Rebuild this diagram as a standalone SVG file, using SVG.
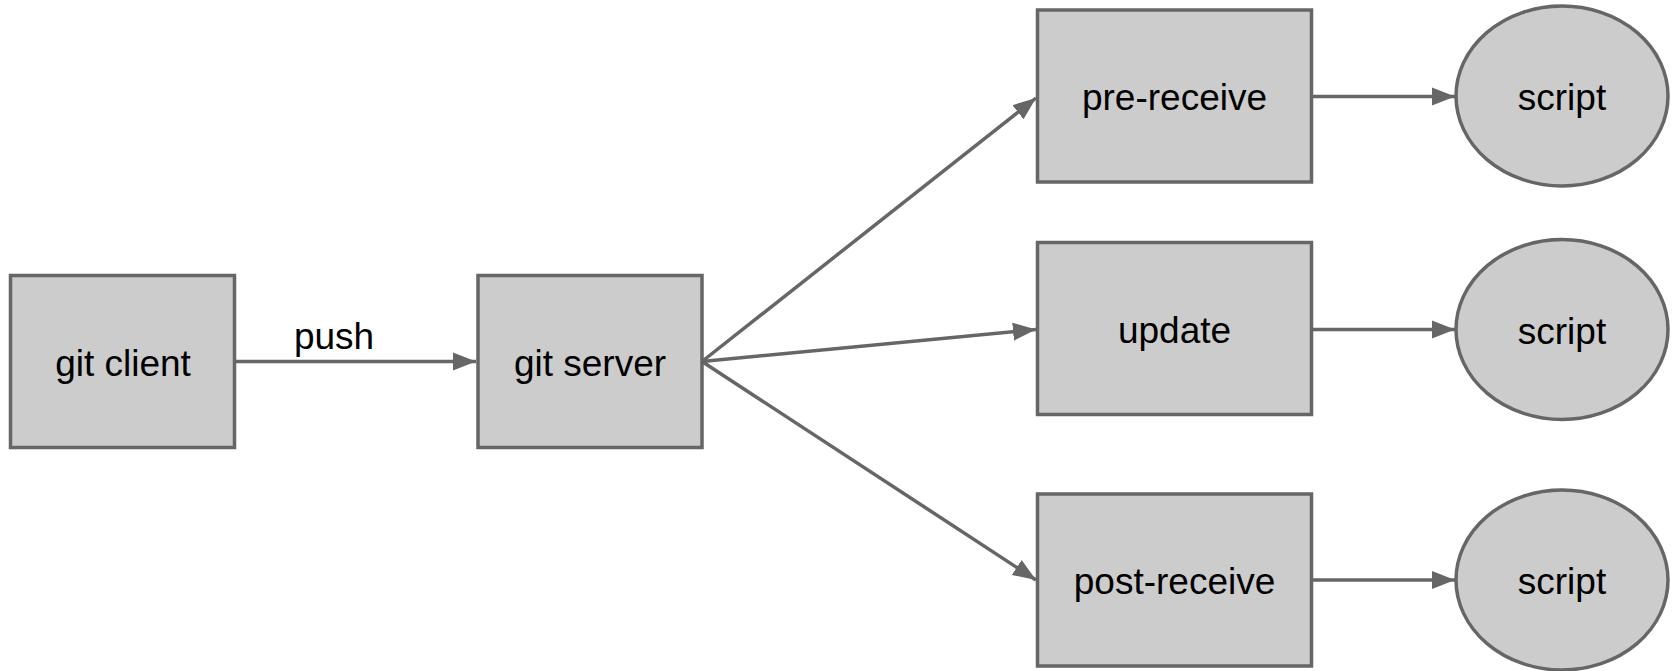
<svg xmlns="http://www.w3.org/2000/svg" width="1672" height="671" viewBox="0 0 1672 671">
<style>
.box{fill:#cccccc;stroke:#666666;stroke-width:3.5}
.conn{stroke:#666666;stroke-width:3.5;fill:none}
text{font-family:"Liberation Sans",Arial,sans-serif;font-size:37px;fill:#000;text-anchor:middle}
</style>
<defs>
<marker id="arr" markerUnits="userSpaceOnUse" markerWidth="24" markerHeight="20" refX="23" refY="9" orient="auto" viewBox="0 0 24 18">
<path d="M0,0 L23,9 L0,18 z" fill="#666666"/>
</marker>
</defs>
<rect width="1672" height="671" fill="#ffffff"/>
<g id="connectors">
<line class="conn" x1="235" y1="361.5" x2="476" y2="361.5" marker-end="url(#arr)"/>
<line class="conn" x1="702" y1="361.5" x2="1036" y2="98" marker-end="url(#arr)"/>
<line class="conn" x1="702" y1="361.5" x2="1036" y2="329.5" marker-end="url(#arr)"/>
<line class="conn" x1="702" y1="361.5" x2="1036" y2="580" marker-end="url(#arr)"/>
<line class="conn" x1="1312" y1="96.5" x2="1455" y2="96.5" marker-end="url(#arr)"/>
<line class="conn" x1="1312" y1="329.5" x2="1455" y2="329.5" marker-end="url(#arr)"/>
<line class="conn" x1="1312" y1="580" x2="1455" y2="580" marker-end="url(#arr)"/>
<text x="334" y="349">push</text>
</g>
<g id="git-client"><rect class="box" x="10.5" y="275.5" width="224" height="172"/><text x="123" y="375.5">git client</text></g>
<g id="git-server"><rect class="box" x="478" y="275.5" width="224" height="172"/><text x="590" y="375.5">git server</text></g>
<g id="pre-receive"><rect class="box" x="1037.5" y="10" width="274" height="172"/><text x="1174.5" y="110">pre-receive</text></g>
<g id="update"><rect class="box" x="1037.5" y="242.5" width="274" height="172"/><text x="1174.5" y="343">update</text></g>
<g id="post-receive"><rect class="box" x="1037.5" y="494" width="274" height="172"/><text x="1174.5" y="594">post-receive</text></g>
<g id="script-1"><ellipse class="box" cx="1562" cy="96" rx="106" ry="90"/><text x="1562" y="110">script</text></g>
<g id="script-2"><ellipse class="box" cx="1562" cy="329.5" rx="106" ry="90"/><text x="1562" y="343.5">script</text></g>
<g id="script-3"><ellipse class="box" cx="1562" cy="580" rx="106" ry="90"/><text x="1562" y="594">script</text></g>
</svg>
